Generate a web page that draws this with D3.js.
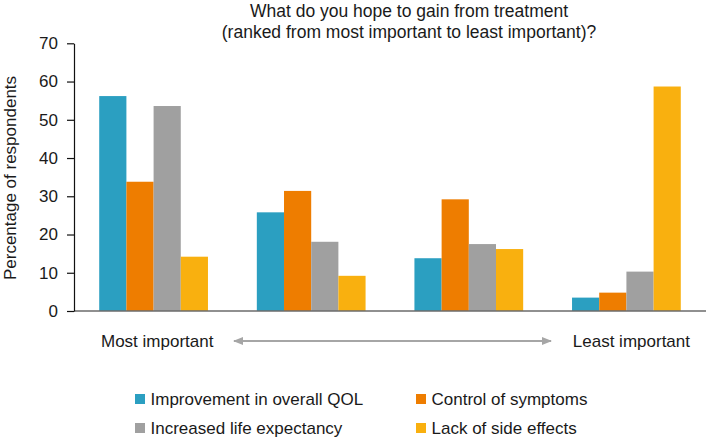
<!DOCTYPE html>
<html><head><meta charset="utf-8">
<script src="https://cdn.jsdelivr.net/npm/d3@7"></script>
<style>
html,body{margin:0;padding:0;background:#fff;}
svg{display:block;font-family:"Liberation Sans",Arial,Helvetica,sans-serif;}
</style></head>
<body><svg id="c" width="706" height="440"></svg>
<script>
const groups = ["Rank 1","Rank 2","Rank 3","Rank 4"];
const seriesNames = ["Improvement in overall QOL","Control of symptoms","Increased life expectancy","Lack of side effects"];
const seriesColors = ["#2b9fc1","#ee7d00","#a0a0a0","#f9b00f"];
const qol      = [56.2, 25.8, 13.8, 3.5];
const symptoms = [33.8, 31.4, 29.2, 4.8];
const life     = [53.6, 18.1, 17.5, 10.3];
const sideFx   = [14.2,  9.2, 16.2, 58.7];
const yTicks = [0,10,20,30,40,50,60,70];
const titleLines = ["What do you hope to gain from treatment","(ranked from most important to least important)?"];

const series = [qol, symptoms, life, sideFx];
const svg = d3.select("#c");
const x0 = 74, y0 = 311, yTop = 43.3, xEnd = 706;
const txt = "#1a1a1a";

const x = d3.scaleBand().domain(groups).range([x0, xEnd]).paddingInner(0.31).paddingOuter(0.16);
const xs = d3.scaleBand().domain(d3.range(4)).range([0, x.bandwidth()]);
const y = d3.scaleLinear().domain([0,70]).range([y0, yTop]);

// title
svg.append("g").selectAll("text").data(titleLines).join("text")
  .attr("x", 409).attr("y", (d,i)=>17+i*20.5)
  .attr("text-anchor","middle").attr("font-size",17.5).attr("fill",txt).text(d=>d);

// bars
const g = svg.append("g");
groups.forEach((grp,gi)=>{
  series.forEach((s,si)=>{
    g.append("rect")
      .attr("x", x(grp)+xs(si)).attr("width", xs.bandwidth())
      .attr("y", y(s[gi])).attr("height", y(0)-y(s[gi]))
      .attr("fill", seriesColors[si]);
  });
});

// baseline
svg.append("line").attr("x1",x0).attr("x2",xEnd).attr("y1",y0).attr("y2",y0)
  .attr("stroke","#6b6b6b").attr("stroke-width",1.5);

// y axis
const ya = svg.append("g").attr("transform",`translate(${x0},0)`)
  .call(d3.axisLeft(y).tickValues(yTicks).tickSize(7).tickPadding(9).tickSizeOuter(0));
ya.select(".domain").attr("stroke","#111").attr("stroke-width",1.2);
ya.selectAll(".tick line").attr("stroke","#111").attr("stroke-width",1.2);
ya.selectAll(".tick text").attr("font-size",17).attr("fill",txt).attr("font-family","'Liberation Sans',Arial,sans-serif");

svg.append("text").attr("transform","translate(16,178) rotate(-90)")
  .attr("text-anchor","middle").attr("font-size",17).attr("fill",txt).text("Percentage of respondents");

// x annotations
svg.append("text").attr("x",101).attr("y",347).attr("font-size",17).attr("fill",txt).text("Most important");
svg.append("text").attr("x",690).attr("y",347).attr("text-anchor","end").attr("font-size",17).attr("fill",txt).text("Least important");

const defs = svg.append("defs");
defs.append("marker").attr("id","ah").attr("viewBox","0 0 10 10").attr("refX",9).attr("refY",5)
  .attr("markerWidth",10).attr("markerHeight",10).attr("markerUnits","userSpaceOnUse").attr("orient","auto-start-reverse")
  .append("path").attr("d","M0,1 L10,5 L0,9 Z").attr("fill","#a6a6a6");
svg.append("line").attr("x1",234).attr("x2",551).attr("y1",341).attr("y2",341)
  .attr("stroke","#a6a6a6").attr("stroke-width",2)
  .attr("marker-start","url(#ah)").attr("marker-end","url(#ah)");

// legend
const legPos = [[135,399],[416,399],[135,428],[416,428]];
const lg = svg.append("g").selectAll("g").data(seriesNames).join("g")
  .attr("transform",(d,i)=>`translate(${legPos[i][0]},${legPos[i][1]})`);
lg.append("rect").attr("x",0).attr("y",-5).attr("width",10).attr("height",10).attr("fill",(d,i)=>seriesColors[i]);
lg.append("text").attr("x",15.5).attr("y",5.5).attr("font-size",17).attr("fill",txt).text(d=>d);
</script></body></html>
